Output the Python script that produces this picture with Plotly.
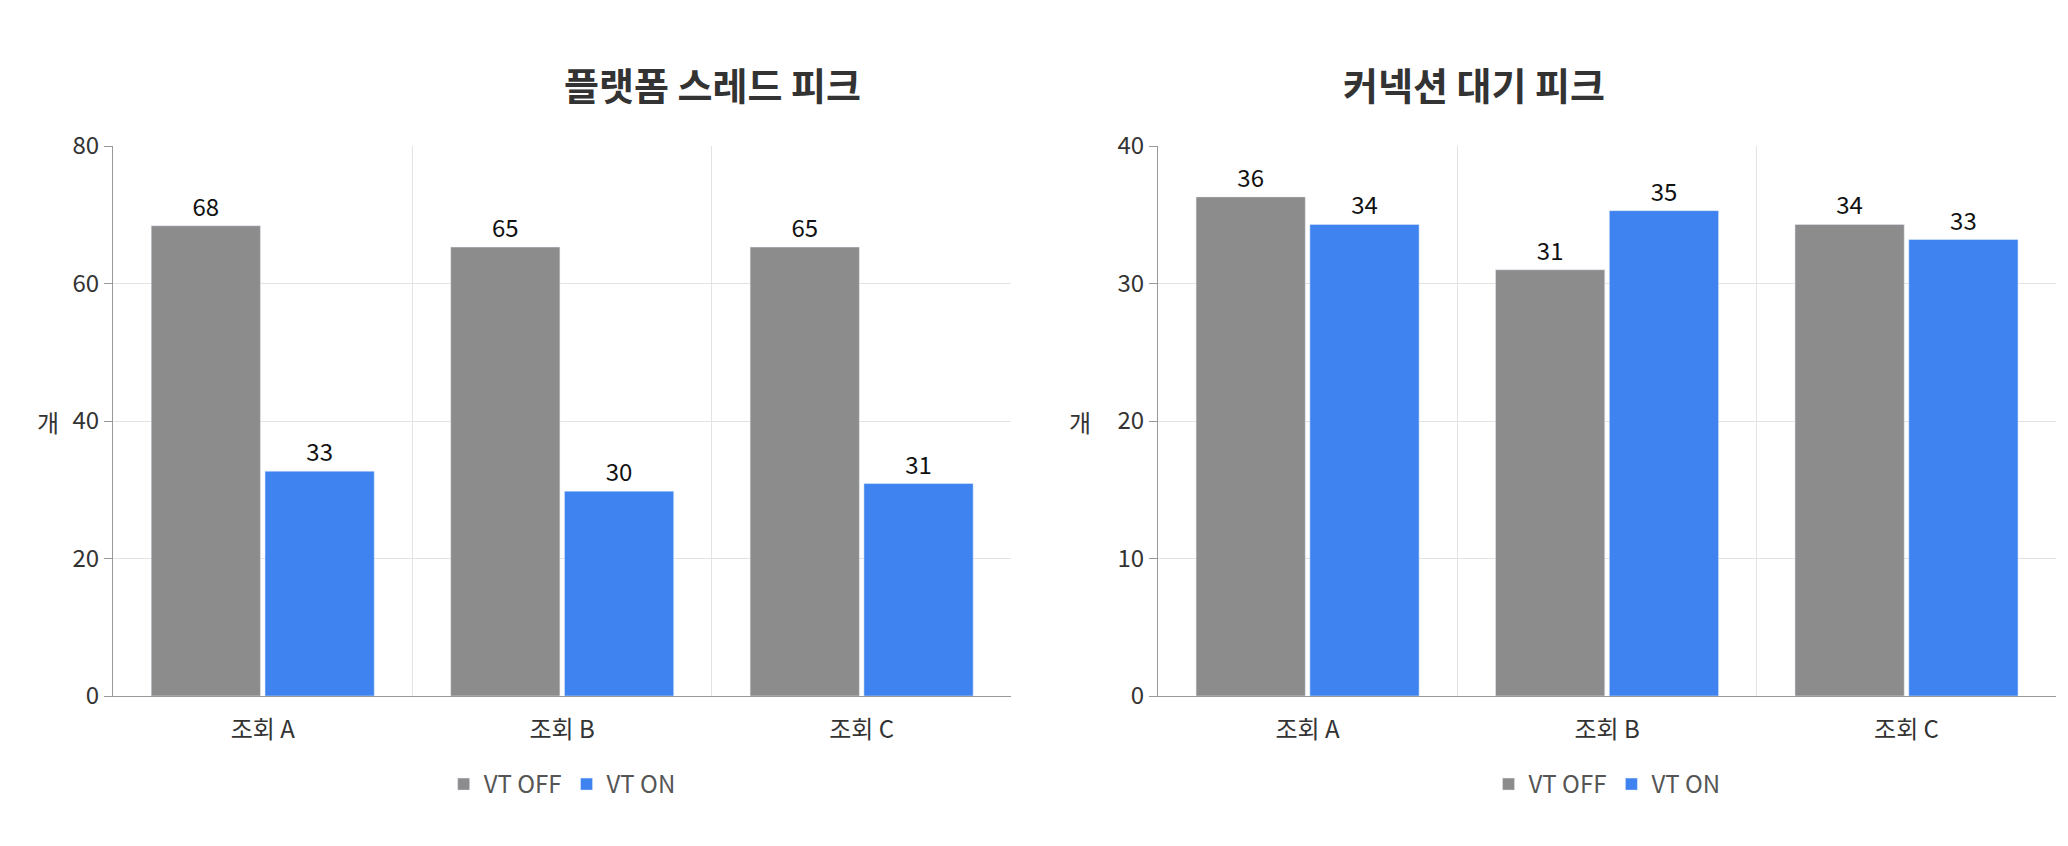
import plotly.graph_objects as go
from plotly.subplots import make_subplots

categories = ["조회 A", "조회 B", "조회 C"]
titles = ["플랫폼 스레드 피크", "커넥션 대기 피크"]
left_off = [68.4, 65.3, 65.3]
left_on = [32.7, 29.8, 30.9]
right_off = [36.3, 31.0, 34.3]
right_on = [34.3, 35.3, 33.2]
y_ranges = [[0, 80], [0, 40]]
y_dticks = [20, 10]

GRAY = "#8c8c8c"
BLUE = "#3f83f0"
FONT = "Noto Sans CJK KR"

fig = make_subplots(rows=1, cols=2, horizontal_spacing=0.08)
xs = list(range(len(categories)))
for col, (off, on) in enumerate([(left_off, left_on), (right_off, right_on)], start=1):
    for name, vals, color in [("VT OFF", off, GRAY), ("VT ON", on, BLUE)]:
        fig.add_trace(go.Bar(
            x=xs, y=vals, name=name, marker_color=color,
            legend="legend" if col == 1 else "legend2",
            text=vals, texttemplate="%{y:.0f}",
            textposition="outside", textfont=dict(size=24, color="#111", family=FONT),
            cliponaxis=False,
        ), row=1, col=col)
    fig.update_xaxes(row=1, col=col, tickvals=xs, ticktext=categories, range=[-0.5, 2.5],
                     showgrid=False, showline=True, linecolor="#999", ticks="outside",
                     ticklen=12, tickcolor="rgba(0,0,0,0)",
                     tickfont=dict(size=24, color="#333"),
                     minor=dict(tickvals=[0.5, 1.5], showgrid=True, gridcolor="#e3e3e3", ticks=""))
    fig.update_yaxes(row=1, col=col, range=y_ranges[col - 1], dtick=y_dticks[col - 1],
                     showgrid=True, gridcolor="#e3e3e3", showline=True, linecolor="#999",
                     ticks="outside", ticklen=8, tickcolor="#999",
                     tickfont=dict(size=24, color="#333"), zeroline=False)

fig.layout.xaxis.domain = [0.0, 0.46]
fig.layout.xaxis2.domain = [0.535, 0.995]
fig.update_layout(
    width=2068, height=846, barmode="group", bargap=0.24, bargroupgap=0.04,
    plot_bgcolor="white", paper_bgcolor="white",
    font=dict(family=FONT, color="#333"),
    margin=dict(l=105, r=10, t=138, b=158),
    legend=dict(orientation="h", x=0.23, xanchor="center", y=-0.12, yanchor="top",
                font=dict(size=24, color="#555")),
    legend2=dict(orientation="h", x=0.765, xanchor="center", y=-0.12, yanchor="top",
                 font=dict(size=24, color="#555")),
)
for i, t in enumerate(titles):
    xd = [fig.layout.xaxis.domain, fig.layout.xaxis2.domain][i]
    fig.add_annotation(text="<b>" + t + "</b>", x=(xd[0] + xd[1]) / 2, y=1.06, xref="paper",
                       yref="paper", showarrow=False, yanchor="bottom",
                       font=dict(size=38, color="#333", family=FONT))
    fig.add_annotation(text="개", x=xd[0], xshift=-78, y=0.5, xref="paper", yref="paper",
                       showarrow=False, font=dict(size=24, color="#333", family=FONT))
fig.write_html("out.html")
